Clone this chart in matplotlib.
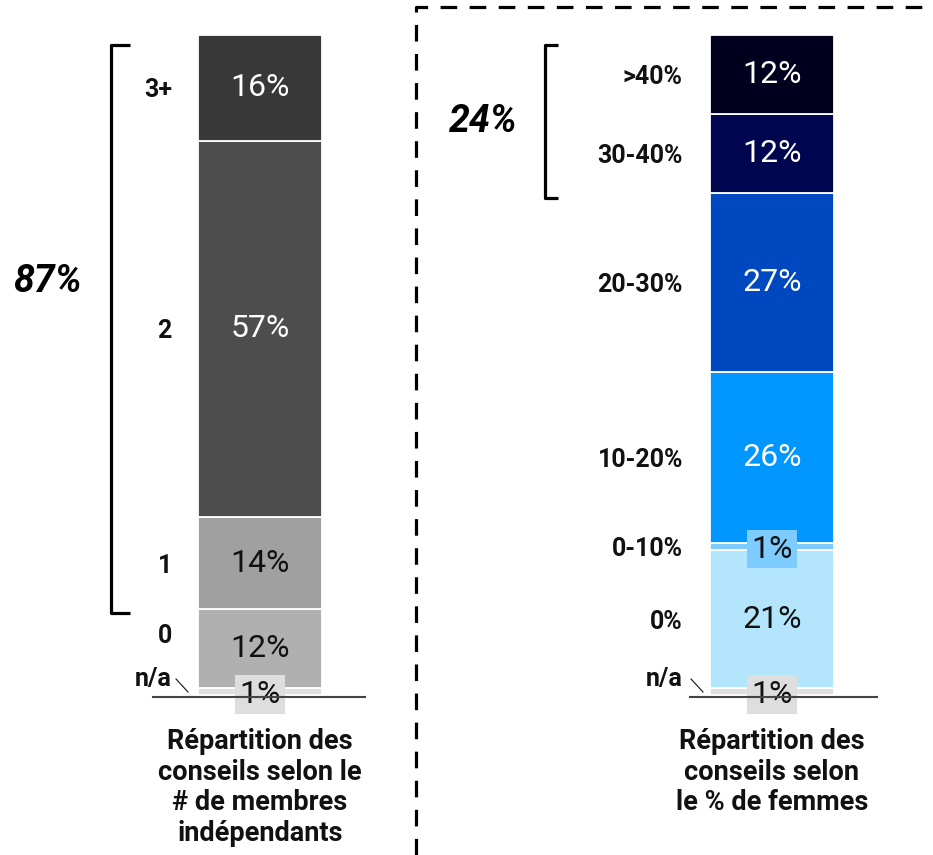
import numpy as np
import matplotlib.pyplot as plt

plt.rcParams['font.family'] = ['Roboto', 'DejaVu Sans']

# left bar: number of independent members (bottom to top)
left_cats = ["n/a", "0", "1", "2", "3+"]
left_vals = [1, 12, 14, 57, 16]
left_colors = ["#dedede", "#b0b0b0", "#a0a0a0", "#4d4d4d", "#383838"]
left_text = ["#111111", "#111111", "#111111", "white", "white"]
left_title = "Répartition des\nconseils selon le\n# de membres\nindépendants"
left_total = "87%"

# right bar: share of women (bottom to top)
right_cats = ["n/a", "0%", "0-10%", "10-20%", "20-30%", "30-40%", ">40%"]
right_vals = [1, 21, 1, 26, 27, 12, 12]
right_colors = ["#dedede", "#b3e5fd", "#7dcbff", "#0096ff", "#0048c0", "#000550", "#00001e"]
right_text = ["#111111", "#111111", "#111111", "white", "white", "white", "white"]
right_title = "Répartition des\nconseils selon\nle % de femmes"
right_total = "24%"

W, H = 933, 855
fig = plt.figure(figsize=(W / 100, H / 100), dpi=100)

# bars in percent units; 100% spans pixel rows 35..695
ppu = 6.6
ax = fig.add_axes([0, 0, 1, 1])
ax.set_xlim(0, W)
ax.set_ylim(-(H - 695) / ppu, 100 + 35 / ppu)
ax.axis("off")

# overlay in pixel units for decorations
deco = fig.add_axes([0, 0, 1, 1], zorder=3)
deco.set_xlim(0, W)
deco.set_ylim(H, 0)
deco.axis("off")
deco.patch.set_alpha(0)


def draw_bar(xc, vals, colors, tcolors, cats, label_x, nudge):
    bottoms = np.concatenate([[0], np.cumsum(vals)[:-1]])
    ax.bar(xc, vals, bottom=bottoms, width=124, color=colors,
           edgecolor="white", linewidth=1.3)
    for i, v in enumerate(vals):
        mid = bottoms[i] + v / 2
        if v <= 2:
            ax.text(xc, mid - 0.4, f"{v}%", ha="center", va="center",
                    fontsize=23, color=tcolors[i], zorder=4,
                    bbox=dict(boxstyle="square,pad=0.15", fc=colors[i], ec="none"))
        else:
            ax.text(xc, mid, f"{v}%", ha="center", va="center",
                    fontsize=23, color=tcolors[i])
        ax.text(label_x, mid + nudge.get(cats[i], -0.4), cats[i], ha="right",
                va="center", fontsize=18, fontweight="bold", color="#111111")


draw_bar(260, left_vals, left_colors, left_text, left_cats, 172,
         {"n/a": 1.9, "0": 2.0})
draw_bar(772, right_vals, right_colors, right_text, right_cats, 683,
         {"n/a": 1.9})

# baselines
deco.plot([153, 365], [697, 697], color="#444444", lw=1.5)
deco.plot([690, 877], [697, 697], color="#444444", lw=1.5)
# n/a leader ticks
deco.plot([176, 188], [679, 692], color="#111111", lw=0.8)
deco.plot([691, 703], [679, 692], color="#111111", lw=0.8)

# brackets
deco.plot([130, 111, 111, 130], [45, 45, 613, 613], color="black", lw=2.3,
          solid_joinstyle="round", solid_capstyle="butt")
deco.plot([558, 545, 545, 558], [45, 45, 198, 198], color="black", lw=2.3,
          solid_joinstyle="round", solid_capstyle="butt")
deco.text(48, 281, left_total, ha="center", va="center", fontsize=27,
          fontweight="bold", fontstyle="italic", color="black")
deco.text(483, 122, right_total, ha="center", va="center", fontsize=27,
          fontweight="bold", fontstyle="italic", color="black")

# separator
deco.plot([416, 416, W], [H, 7, 7], color="black", lw=2.3,
          linestyle=(0, (5.2, 3.9)))

# titles
deco.text(260, 728, left_title, ha="center", va="top", fontsize=19.5,
          fontweight="bold", linespacing=1.17, color="#111111")
deco.text(772, 728, right_title, ha="center", va="top", fontsize=19.5,
          fontweight="bold", linespacing=1.17, color="#111111")

fig.savefig("out.png", dpi=100)
